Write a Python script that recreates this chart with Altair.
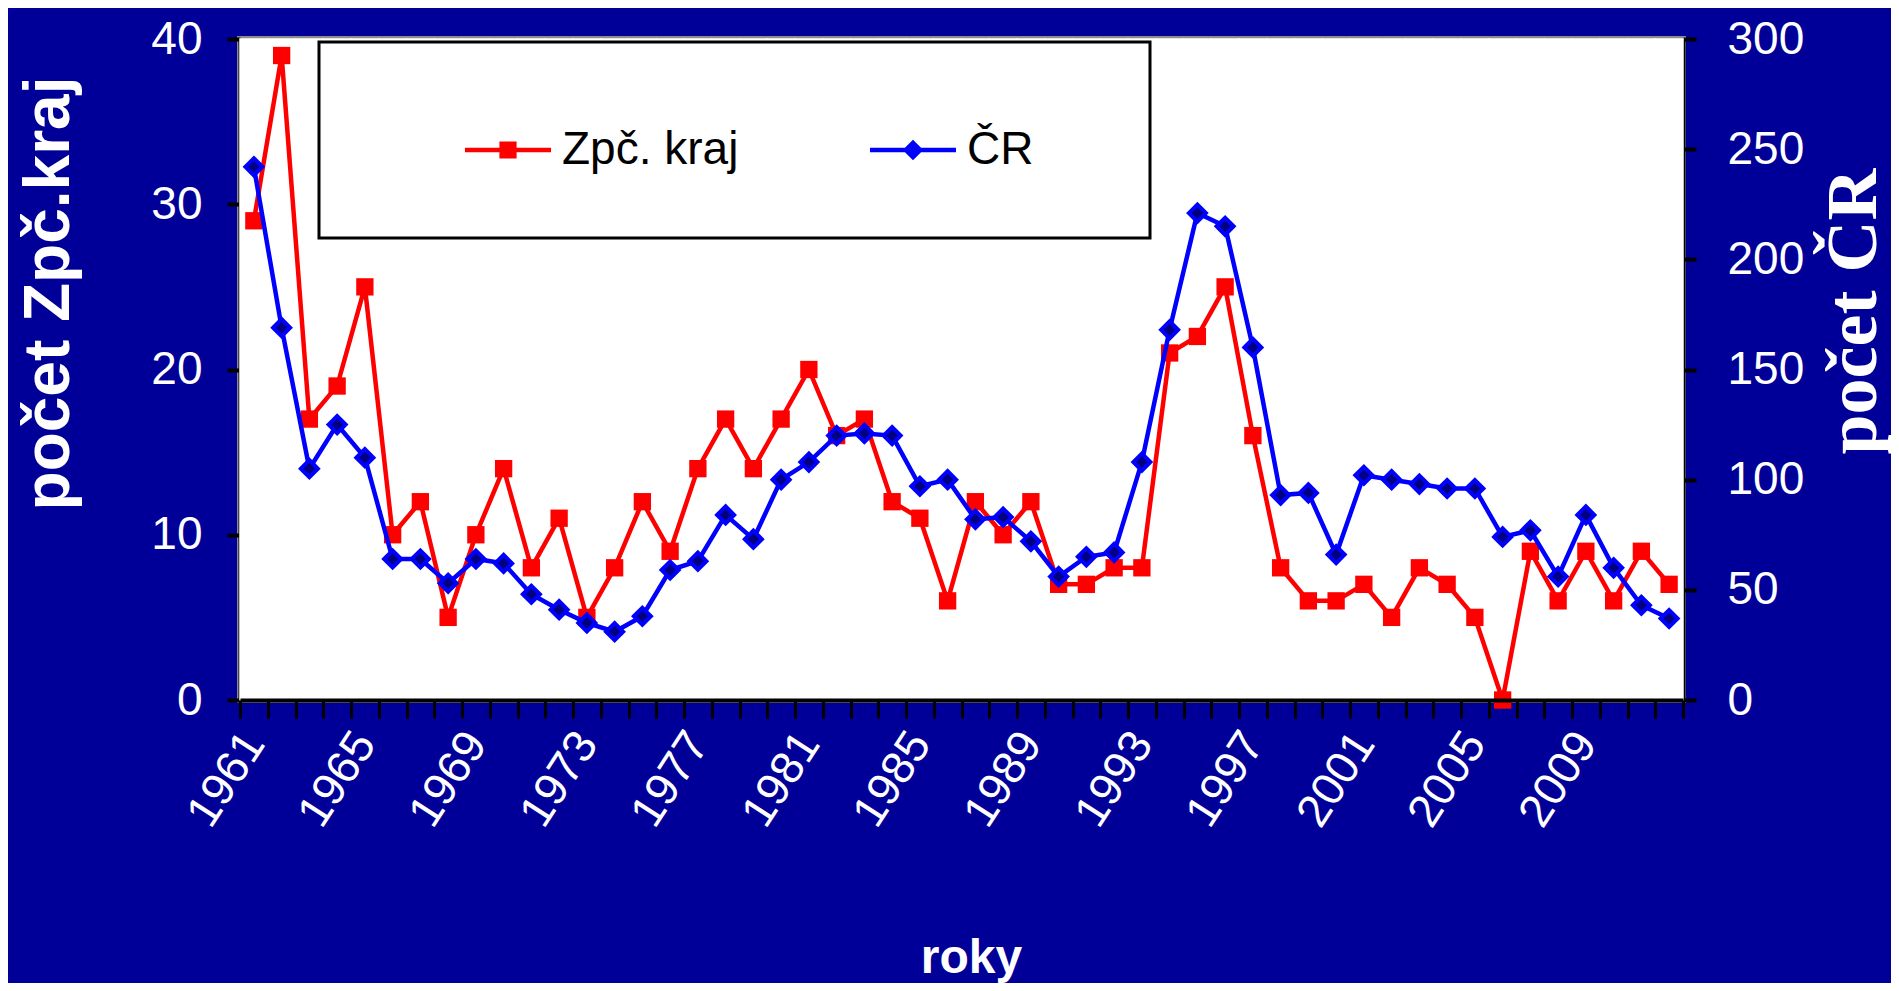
import altair as alt
import pandas as pd

# ---------------- data ----------------
years = [1961, 1962, 1963, 1964, 1965, 1966, 1967, 1968, 1969, 1970,
         1971, 1972, 1973, 1974, 1975, 1976, 1977, 1978, 1979, 1980,
         1981, 1982, 1983, 1984, 1985, 1986, 1987, 1988, 1989, 1990,
         1991, 1992, 1993, 1994, 1995, 1996, 1997, 1998, 1999, 2000,
         2001, 2002, 2003, 2004, 2005, 2006, 2007, 2008, 2009, 2010,
         2011, 2012]
zpc_kraj = [29, 39, 17, 19, 25, 10, 12, 5, 10, 14,
            8, 11, 5, 8, 12, 9, 14, 17, 14, 17,
            20, 16, 17, 12, 11, 6, 12, 10, 12, 7,
            7, 8, 8, 21, 22, 25, 16, 8, 6, 6,
            7, 5, 8, 7, 5, 0, 9, 6, 9, 6,
            9, 7]
cr = [242, 169, 105, 125, 110, 64, 64, 53, 64, 62,
      48, 41, 35, 31, 38, 59, 63, 84, 73, 100,
      108, 120, 121, 120, 97, 100, 82, 83, 72, 56,
      65, 67, 108, 168, 221, 215, 160, 93, 94, 66,
      102, 100, 98, 96, 96, 74, 77, 56, 84, 60,
      43, 37]
series_names = ["Zpč. kraj", "ČR"]
series_colors = ["#FF0000", "#0000FF"]
left_domain = [0, 40]
right_domain = [0, 300]
left_ticks = [0, 10, 20, 30, 40]
right_ticks = [0, 50, 100, 150, 200, 250, 300]
x_label_years = [1961, 1965, 1969, 1973, 1977, 1981, 1985, 1989, 1993,
                 1997, 2001, 2005, 2009]
left_title = "počet Zpč.kraj"
right_title = "počet ČR"
x_title = "roky"

# legend glyphs: line with marker (custom symbol paths)
legend_paths = [
    "M-1,-0.055L1,-0.055L1,0.055L-1,0.055Z M-0.2,-0.2L0.2,-0.2L0.2,0.2L-0.2,0.2Z",
    "M-1,-0.055L1,-0.055L1,0.055L-1,0.055Z M0,-0.24L0.24,0L0,0.24L-0.24,0Z",
]

df = pd.DataFrame({"rok": years, "zpc": zpc_kraj, "cr": cr})
legend_df = pd.DataFrame({"serie": series_names})

SANS = "Liberation Sans, Arial, sans-serif"
SERIF = "Liberation Serif, Times New Roman, serif"
BG = "#000099"
NBSP = "\u00a0"
ZWSP = "\u200b"

label_expr = ("indexof([" + ",".join(str(v) for v in x_label_years)
              + "], datum.value) >= 0 ? datum.label : ''")
# invisible trailing space after the last legend entry widens the legend box on the right
legend_label_expr = ("datum.label == '" + series_names[-1] + "' ? datum.label + '"
                     + NBSP * 4 + ZWSP + "' : datum.label")

x_enc = alt.X(
    "rok:O",
    scale=alt.Scale(type="band", paddingInner=0, paddingOuter=0),
    axis=alt.Axis(
        title=x_title, tickBand="extent", labelExpr=label_expr,
        labelAngle=-57, labelAlign="right", labelBaseline="middle",
        labelFont=SANS, labelFontSize=46, labelColor="white",
        labelPadding=18, labelOverlap=False, labelBound=False,
        tickSize=18, tickWidth=3, tickColor="black",
        domainColor="black", domainWidth=4, grid=False,
        titleFont=SANS, titleFontWeight="bold", titleFontSize=48,
        titleColor="white", titleX=731, titleY=272,
        titleBaseline="alphabetic", titleAlign="center",
    ),
)

y_left = alt.Y(
    "zpc:Q",
    scale=alt.Scale(domain=left_domain, nice=False, zero=True),
    axis=alt.Axis(
        orient="left", values=left_ticks, title=left_title,
        labelFont=SANS, labelFontSize=46, labelColor="white",
        labelPadding=25, labelFlush=False, labelOverlap=False,
        tickSize=13, tickWidth=4, tickColor="black",
        domainColor="black", domainWidth=4, grid=False,
        titleFont=SANS, titleFontWeight="bold", titleFontSize=64,
        titleColor="white", titleAngle=-90, titleX=-172, titleY=254,
        titleAlign="center", titleBaseline="alphabetic",
    ),
)

y_right = alt.Y(
    "cr:Q",
    scale=alt.Scale(domain=right_domain, nice=False, zero=True),
    axis=alt.Axis(
        orient="right", values=right_ticks, title=right_title,
        labelFont=SANS, labelFontSize=46, labelColor="white",
        labelPadding=31, labelFlush=False, labelOverlap=False,
        tickSize=13, tickWidth=4, tickColor="black",
        domainColor="black", domainWidth=4, grid=False,
        titleFont=SERIF, titleFontWeight="bold", titleFontSize=72,
        titleColor="white", titleAngle=-90, titleX=192, titleY=272,
        titleAlign="center", titleBaseline="alphabetic",
    ),
)

base = alt.Chart(df)

# white plot background built from the year bands
plot_bg = base.mark_rect(color="white", stroke="white", strokeWidth=1.5).encode(
    x=x_enc, y=alt.Y(datum=left_domain[0], scale=alt.Scale(domain=left_domain, nice=False)),
    y2=alt.Y2(datum=left_domain[1]),
)

red_line = base.mark_line(color=series_colors[0], strokeWidth=4.5).encode(x=x_enc, y=y_left)
red_pts = base.mark_point(shape="square", filled=True, size=300, color=series_colors[0],
                          opacity=1).encode(x=x_enc, y=y_left)
left_layer = alt.layer(plot_bg, red_line, red_pts)

blue_line = base.mark_line(color=series_colors[1], strokeWidth=4.5).encode(x=x_enc, y=y_right)
blue_pts = base.mark_point(shape="diamond", filled=True, size=290, fill="#000080",
                           stroke=series_colors[1], strokeWidth=4,
                           opacity=1).encode(x=x_enc, y=y_right)
right_layer = alt.layer(blue_line, blue_pts)

legend_layer = alt.Chart(legend_df).transform_filter("false").mark_point(
    filled=True, opacity=1
).encode(
    color=alt.Color("serie:N", scale=alt.Scale(domain=series_names, range=series_colors),
                    legend=alt.Legend(title=" ", labelExpr=legend_label_expr)),
    shape=alt.Shape("serie:N", scale=alt.Scale(domain=series_names, range=legend_paths),
                    legend=alt.Legend(title=" ", labelExpr=legend_label_expr)),
)

chart = alt.layer(left_layer, right_layer, legend_layer).resolve_scale(
    y="independent"
).properties(
    width=1443, height=661,
    autosize=alt.AutoSizeParams(type="none"),
    padding={"left": 232, "top": 31, "right": 208, "bottom": 283},
    background=BG,
).configure_view(
    fill="white", stroke="#8C8C8C", strokeWidth=6,
).configure_legend(
    orient="none", legendX=79, legendY=3, direction="horizontal",
    fillColor="white", strokeColor="black", strokeWidth=3, padding=65,
    labelFont=SANS, labelFontSize=46, labelColor="black", labelOffset=11,
    labelLimit=600, symbolSize=7396, symbolStrokeWidth=0, columnPadding=131,
    titleOrient="left", titlePadding=81, titleFontSize=10, titleColor="white",
)

chart.save("out.html", embed_options={"renderer": "svg", "actions": False})
